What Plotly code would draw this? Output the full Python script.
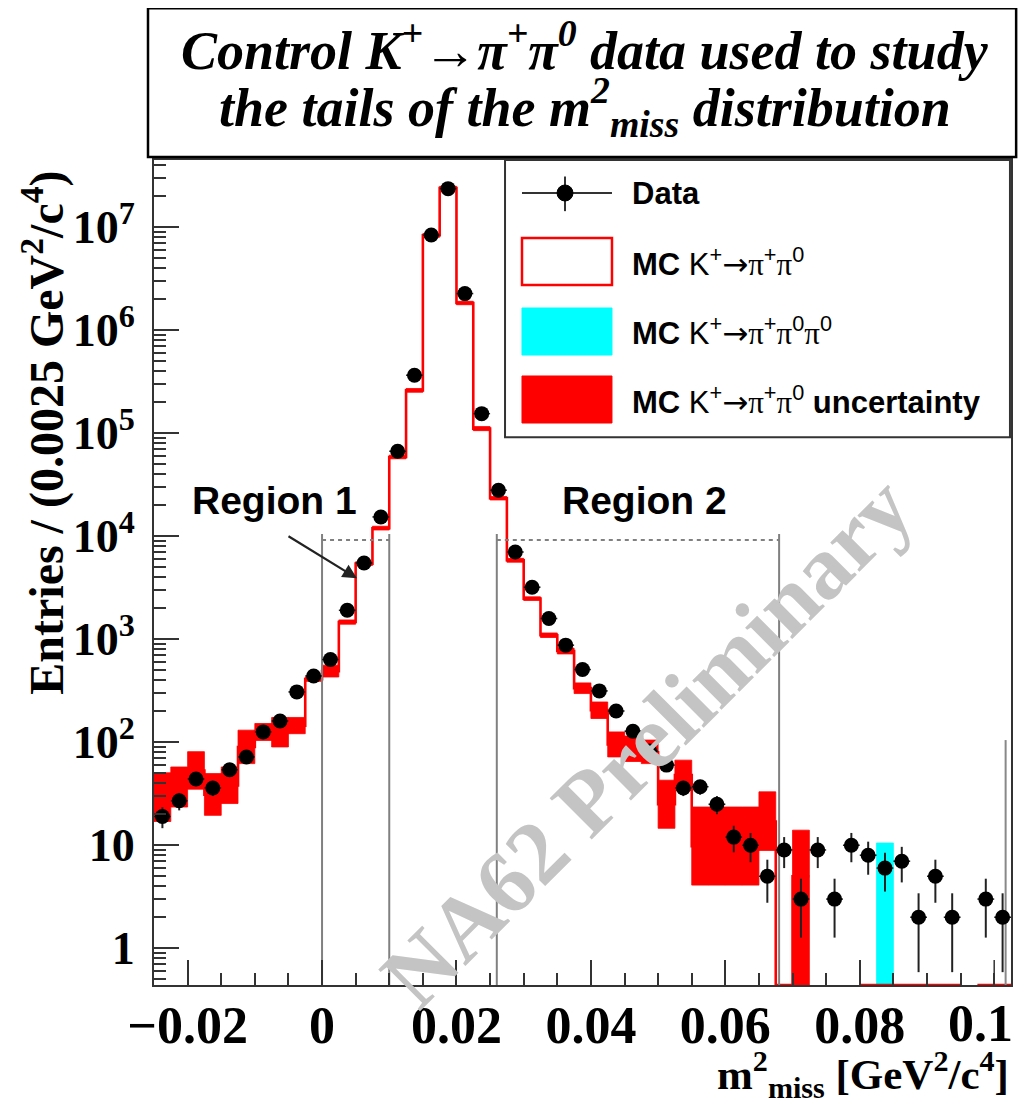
import math
import plotly.graph_objects as go

# ---------------- data ----------------
BIN_WIDTH = 0.0025
m2_centers = [-0.02375, -0.02125, -0.01875, -0.01625, -0.01375, -0.01125, -0.00875, -0.00625,
              -0.00375, -0.00125, 0.00125, 0.00375, 0.00625, 0.00875, 0.01125, 0.01375,
              0.01625, 0.01875, 0.02125, 0.02375, 0.02625, 0.02875, 0.03125, 0.03375,
              0.03625, 0.03875, 0.04125, 0.04375, 0.04625, 0.04875, 0.05125, 0.05375,
              0.05625, 0.05875, 0.06125, 0.06375, 0.06625, 0.06875, 0.07125, 0.07375,
              0.07625, 0.07875, 0.08125, 0.08375, 0.08625, 0.08875, 0.09125, 0.09375,
              0.09625, 0.09875, 0.10125]

data_counts = [19, 27, 44, 36, 54, 72, 126, 161, 308, 440,
               635, 1910, 5500, 15400, 66900, 366000, 8400000, 23700000, 2270000, 155000,
               28000, 7030, 3200, 1590, 876, 508, 315, 201, 128, 82,
               60, 36, 37, 25, 12, 10, 5, 9, 3, 9,
               3, 10, 8, 6, 7, 2, 5, 2, 0, 3, 2]

# MC K+ -> pi+ pi0 (None = not drawn, 0 = empty bin drawn on the axis floor)
mc_k2pi = [29, 37, 53, 31, 38, 90, 126, 125, 145, 410,
           490, 1470, 5420, 11970, 58900, 261000, 8360000, 24000000, 1840000, 111000,
           23400, 5850, 2480, 1094, 770, 335, 205, 95, 86, 80,
           25, 48, 9.8, 9.8, 9.8, 9.8, 17, 0, 5, None,
           None, None, 0, 0, 0, 0, 0, 0, None, 0, 0]

mc_unc_lo = [17, 23.5, 35, 19.5, 25.4, 62, 104, 90, 121, 390,
             430, 1400, 5200, 11500, 56500, 250000, 8000000, 23000000, 1770000, 106000,
             22500, 5600, 2380, 1040, 720, 297, 170, 72, 65, 62,
             14.6, 34, 4.1, 4.1, 4.1, 4.1, 8.9, None, 0, None,
             None, None, None, None, None, None, None, None, None, None, None]
mc_unc_hi = [50.5, 57.5, 81, 49.6, 57.5, 131, 152, 174, 174, 430,
             560, 1540, 5650, 12500, 61300, 272000, 8700000, 25000000, 1910000, 116000,
             24300, 6100, 2580, 1150, 820, 377, 246, 126, 115, 105,
             42.8, 67, 23.5, 23.5, 23.5, 23.5, 33, None, 14, None,
             None, None, None, None, None, None, None, None, None, None, None]

mc_k3pi = [0] * 43 + [10.5] + [0] * 7

gray_bar_x = [0.1017, 0.1017]
gray_bar_y = [0, 105]

region1 = [0.0, 0.01]
region2 = [0.026, 0.068]
region_level = 9200
region_top = 10500
region1_arrow_tip = (0.0052, 3900)

y_tickvals = [1, 10, 100, 1e3, 1e4, 1e5, 1e6, 1e7]
y_ticktext = ["1", "10", "10<sup>2</sup>", "10<sup>3</sup>", "10<sup>4</sup>",
              "10<sup>5</sup>", "10<sup>6</sup>", "10<sup>7</sup>"]
x_tickvals = [-0.02, 0.0, 0.02, 0.04, 0.06, 0.08, 0.1]
x_ticktext = ["\u22120.02", "0", "0.02", "0.04", "0.06", "0.08", "0.1"]

X_RANGE = [-0.025, 0.1025]
Y_RANGE = [-0.357, 7.653]           # log10 units
FLOOR = 10 ** Y_RANGE[0]

SERIF = "Liberation Serif"
SANS = "Liberation Sans"
RED = "#ff0000"
CYAN = "#00ffff"

fig = go.Figure()


def rect_path(centers, lows, highs):
    xs, ys = [], []
    for c, lo, hi in zip(centers, lows, highs):
        if lo is None or hi is None:
            continue
        lo = max(lo, FLOOR)
        x0, x1 = c - BIN_WIDTH / 2, c + BIN_WIDTH / 2
        xs += [x0, x1, x1, x0, x0, None]
        ys += [lo, lo, hi, hi, lo, None]
    return xs, ys


# uncertainty band
bx, by = rect_path(m2_centers, mc_unc_lo, mc_unc_hi)
fig.add_trace(go.Scatter(x=bx, y=by, mode="lines", fill="toself", fillcolor=RED,
                         line=dict(color=RED, width=0.8), hoverinfo="skip", showlegend=False))

# K3pi (cyan) stacked on MC
cx, cy = rect_path(m2_centers, [0 if v > 0 else None for v in mc_k3pi],
                   [v if v > 0 else None for v in mc_k3pi])
fig.add_trace(go.Scatter(x=cx, y=cy, mode="lines", fill="toself", fillcolor=CYAN,
                         line=dict(color=CYAN, width=0.8), hoverinfo="skip", showlegend=False))

# MC K2pi histogram line
sx, sy = [], []
prev = False
for c, v in zip(m2_centers, mc_k2pi):
    if v is None:
        if prev:
            sx.append(None); sy.append(None)
        prev = False
        continue
    vv = max(v, FLOOR)
    sx += [c - BIN_WIDTH / 2, c + BIN_WIDTH / 2]
    sy += [vv, vv]
    prev = True
fig.add_trace(go.Scatter(x=sx, y=sy, mode="lines", line=dict(color=RED, width=2.6),
                         hoverinfo="skip", showlegend=False))

# region lines
vx, vy = [], []
for e in region1 + region2:
    vx += [e, e, None]
    vy += [FLOOR, region_top, None]
fig.add_trace(go.Scatter(x=vx, y=vy, mode="lines", line=dict(color="#808080", width=2),
                         hoverinfo="skip", showlegend=False))
hx = region1 + [None] + region2
hy = [region_level, region_level, None, region_level, region_level]
fig.add_trace(go.Scatter(x=hx, y=hy, mode="lines",
                         line=dict(color="#808080", width=2, dash="4px,4px"),
                         hoverinfo="skip", showlegend=False))

# gray bar on the right
fig.add_trace(go.Scatter(x=gray_bar_x, y=[max(v, FLOOR) for v in gray_bar_y], mode="lines",
                         line=dict(color="#888888", width=2), hoverinfo="skip", showlegend=False))

# data points
dx = [c for c, n in zip(m2_centers, data_counts) if n > 0]
dy = [n for n in data_counts if n > 0]
derr = [n ** 0.5 for n in dy]
fig.add_trace(go.Scatter(
    x=dx, y=dy, mode="markers",
    marker=dict(color="black", size=15),
    error_y=dict(type="data", array=derr, arrayminus=derr, color="#222222", thickness=2, width=0),
    error_x=dict(type="constant", value=BIN_WIDTH / 2, color="#222222", thickness=1.5, width=0),
    hoverinfo="skip", showlegend=False))

# ---------------- layout ----------------
XTICK_FONT = dict(family=SERIF, size=52, color="black", weight="bold")
fig.update_layout(
    width=1010, height=1097,
    margin=dict(l=146, r=7, t=152, b=120, autoexpand=False),
    paper_bgcolor="white", plot_bgcolor="white",
    showlegend=False,
    xaxis=dict(range=X_RANGE, tickvals=x_tickvals[:-1], ticktext=x_ticktext[:-1], ticks="inside",
               ticklen=25, tickwidth=1.5, tickcolor="#333333", automargin=False,
               minor=dict(dtick=0.005, tick0=0, ticks="inside", ticklen=12, tickwidth=1.5,
                          tickcolor="#333333"),
               showline=True, linewidth=2, linecolor="#333333", mirror=True,
               showgrid=False, zeroline=False, ticklabelstandoff=-6,
               tickfont=XTICK_FONT),
    yaxis=dict(type="log", range=Y_RANGE, tickvals=y_tickvals, ticktext=y_ticktext,
               ticks="inside", ticklen=25, tickwidth=1.5, tickcolor="#333333", automargin=False,
               minor=dict(ticks="inside", ticklen=12, tickwidth=1.5, tickcolor="#333333",
                          dtick="D1"),
               showline=True, linewidth=2, linecolor="#333333", mirror=True,
               showgrid=False, zeroline=False, ticklabelstandoff=8,
               tickfont=dict(family=SERIF, size=46, color="black", weight="bold")),
)

shapes = []
annotations = []

# last major x tick + its label (kept inside the page edge)
shapes.append(dict(type="line", xref="x", yref="paper", x0=x_tickvals[-1], x1=x_tickvals[-1],
                   y0=0, y1=25 / 825, line=dict(color="#333333", width=1.5)))
annotations.append(dict(x=x_tickvals[-1], xref="x", y=0, yref="paper", yanchor="top",
                        xanchor="right", xshift=21, yshift=-8, showarrow=False,
                        text=x_ticktext[-1], font=XTICK_FONT))

# title box
shapes.append(dict(type="rect", xref="paper", yref="paper", x0=-0.007, x1=1.006,
                   y0=1.0036, y1=1.184, line=dict(color="black", width=2.5),
                   fillcolor="white", layer="above"))
title_font = dict(family=SERIF, size=54, color="black")
annotations.append(dict(xref="paper", yref="paper", x=0.503, y=1.137, showarrow=False,
                        xanchor="center", yanchor="middle",
                        text="<b><i>Control K<sup>+</sup>\u2192\u03c0<sup>+</sup>\u03c0<sup>0</sup> data used to study</i></b>",
                        font=title_font))
annotations.append(dict(xref="paper", yref="paper", x=0.503, y=1.064, showarrow=False,
                        xanchor="center", yanchor="middle",
                        text="<b><i>the tails of the m<sup>2</sup><sub>miss</sub> distribution</i></b>",
                        font=title_font))

# legend box
LX0, LX1, LY0, LY1 = 0.4096, 0.9988, 0.664, 1.0
shapes.append(dict(type="rect", xref="paper", yref="paper", x0=LX0, x1=LX1, y0=LY0, y1=LY1,
                   line=dict(color="#333333", width=2), fillcolor="white", layer="above"))
sx0, sx1 = 0.4294, 0.5344
shapes.append(dict(type="line", xref="paper", yref="paper", x0=sx0, x1=sx1, y0=0.96, y1=0.96,
                   line=dict(color="#333333", width=2), layer="above"))
shapes.append(dict(type="line", xref="paper", yref="paper", x0=0.4796, x1=0.4796, y0=0.938,
                   y1=0.980, line=dict(color="#333333", width=2), layer="above"))
shapes.append(dict(type="circle", xref="paper", yref="paper", x0=0.4796 - 0.0093,
                   x1=0.4796 + 0.0093, y0=0.96 - 0.0097, y1=0.96 + 0.0097,
                   line=dict(color="black", width=1), fillcolor="black", layer="above"))
shapes.append(dict(type="rect", xref="paper", yref="paper", x0=sx0, x1=sx1, y0=0.8485,
                   y1=0.9055, line=dict(color=RED, width=2.5), fillcolor="white", layer="above"))
shapes.append(dict(type="rect", xref="paper", yref="paper", x0=sx0, x1=sx1, y0=0.7636,
                   y1=0.8206, line=dict(color=CYAN, width=1), fillcolor=CYAN, layer="above"))
shapes.append(dict(type="rect", xref="paper", yref="paper", x0=sx0, x1=sx1, y0=0.6812,
                   y1=0.7382, line=dict(color=RED, width=1), fillcolor=RED, layer="above"))
leg_font = dict(family=SANS, size=31, color="black")
ARW = "<span style='font-family:DejaVu Sans'>\u2192</span>"
PI = "<span style='font-family:Liberation Serif'>\u03c0</span>"
pi2 = "K<sup>+</sup>" + ARW + PI + "<sup>+</sup>" + PI + "<sup>0</sup>"
pi3 = pi2 + PI + "<sup>0</sup>"
for yy, txt in [(0.960, "<b>Data</b>"), (0.8764, "<b>MC </b>" + pi2),
                (0.7927, "<b>MC </b>" + pi3),
                (0.7091, "<b>MC </b>" + pi2 + "<b> uncertainty</b>")]:
    annotations.append(dict(xref="paper", yref="paper", x=0.5554, y=yy, xanchor="left",
                            yanchor="middle", showarrow=False, text=txt, font=leg_font))

# region labels
reg_font = dict(family=SANS, size=39, color="black")
annotations.append(dict(x=-0.007, y=4.35, xref="x", yref="y", showarrow=False,
                        xanchor="center", yanchor="middle",
                        text="<b>Region 1</b>", font=reg_font))
annotations.append(dict(x=0.048, y=4.35, xref="x", yref="y", showarrow=False,
                        xanchor="center", yanchor="middle",
                        text="<b>Region 2</b>", font=reg_font))
annotations.append(dict(x=region1_arrow_tip[0], y=math.log10(region1_arrow_tip[1]), xref="x",
                        yref="y", text="", showarrow=True, ax=-70, ay=-43, arrowhead=2,
                        arrowsize=1.3, arrowwidth=2.2, arrowcolor="#222222"))

# axis titles
annotations.append(dict(xref="paper", yref="paper", x=-0.129, y=0.670, showarrow=False,
                        textangle=-90, xanchor="center", yanchor="middle",
                        text="<b>Entries / (0.0025 GeV<sup>2</sup>/c<sup>4</sup>)</b>",
                        font=dict(family=SERIF, size=48, color="black")))
annotations.append(dict(xref="paper", yref="paper", x=1.0, y=-0.109, showarrow=False,
                        xanchor="right", yanchor="middle",
                        text="<b>m<sup>2</sup><sub>miss</sub> [GeV<sup>2</sup>/c<sup>4</sup>]</b>",
                        font=dict(family=SERIF, size=43, color="black")))

# watermark
annotations.append(dict(xref="paper", yref="paper", x=0.575, y=0.295, showarrow=False,
                        xanchor="center", yanchor="middle",
                        textangle=-45, text="<b>NA62 Preliminary</b>",
                        font=dict(family=SERIF, size=90, color="#c4c4c4")))

fig.update_layout(shapes=shapes, annotations=annotations)
fig.write_html("out.html")
